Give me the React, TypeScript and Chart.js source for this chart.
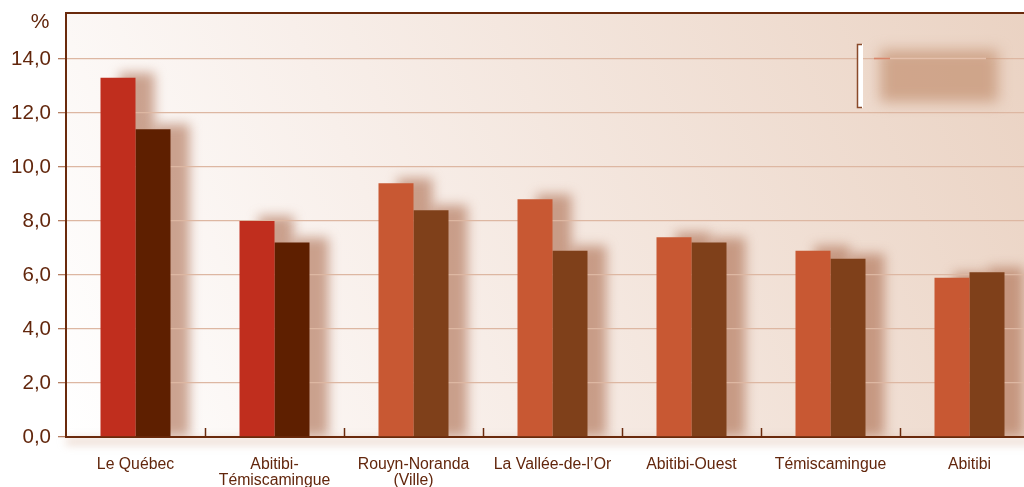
import React, { useEffect, useRef } from "react";
import { Chart, registerables } from "chart.js";

Chart.register(...registerables);

const categories: (string | string[])[] = [
  "Le Québec",
  ["Abitibi-", "Témiscamingue"],
  ["Rouyn-Noranda", "(Ville)"],
  "La Vallée-de-l’Or",
  "Abitibi-Ouest",
  "Témiscamingue",
  "Abitibi",
];
const seriesA = [13.3, 8.0, 9.4, 8.8, 7.4, 6.9, 5.9];
const seriesB = [11.4, 7.2, 8.4, 6.9, 7.2, 6.6, 6.1];
const colorsA = ["#C02E1E", "#C02E1E", "#C85833", "#C85833", "#C85833", "#C85833", "#C85833"];
const colorsB = ["#5E1F00", "#5E1F00", "#7F401A", "#7F401A", "#7F401A", "#7F401A", "#7F401A"];
const yTicks = [0, 2, 4, 6, 8, 10, 12, 14];

const FONT = "'Liberation Sans', Arial, Helvetica, sans-serif";
const BROWN = "#6A2A0C";
const TEXT = "#62260C";

const decor = {
  id: "decor",
  beforeDraw(chart: any) {
    const { ctx, chartArea: a } = chart;
    ctx.save();
    const g = ctx.createLinearGradient(a.left, a.bottom, a.right, a.top);
    g.addColorStop(0, "#FFFFFF");
    g.addColorStop(0.35, "#F8EFEA");
    g.addColorStop(1, "#EAD2C2");
    ctx.fillStyle = g;
    ctx.fillRect(a.left, a.top, a.right - a.left, a.bottom - a.top);
    // axis shadow below bottom
    ctx.save();
    ctx.filter = "blur(4px)";
    ctx.fillStyle = "rgba(200,150,120,0.35)";
    ctx.fillRect(a.left, a.bottom + 1, a.right - a.left, 7);
    ctx.restore();
    // bar shadows (drawn under grid lines)
    ctx.beginPath();
    ctx.rect(a.left, a.top, a.right - a.left, a.bottom - a.top);
    ctx.clip();
    ctx.filter = "blur(6px)";
    ctx.fillStyle = "rgba(170,105,75,0.6)";
    chart.data.datasets.forEach((_: any, di: number) => {
      const meta = chart.getDatasetMeta(di);
      meta.data.forEach((bar: any) => {
        const p = bar.getProps(["x", "y", "base", "width"], true);
        ctx.fillRect(p.x - p.width / 2 + 19, p.y - 5, p.width, p.base - p.y + 5);
      });
    });
    ctx.restore();
  },
  afterDraw(chart: any) {
    const { ctx, chartArea: a } = chart;
    ctx.save();
    // top border
    ctx.strokeStyle = BROWN;
    ctx.lineWidth = 2;
    ctx.beginPath();
    ctx.moveTo(a.left - 1, a.top);
    ctx.lineTo(a.right, a.top);
    ctx.stroke();
    // x category boundary ticks
    const n = categories.length;
    const w = (a.right - a.left) / n;
    ctx.lineWidth = 1.5;
    for (let i = 1; i < n; i++) {
      const x = Math.round(a.left + i * w) + 0.5;
      ctx.beginPath();
      ctx.moveTo(x, a.bottom - 9);
      ctx.lineTo(x, a.bottom);
      ctx.stroke();
    }
    // % label
    ctx.fillStyle = TEXT;
    ctx.font = `21px ${FONT}`;
    ctx.textAlign = "center";
    ctx.textBaseline = "middle";
    ctx.fillText("%", 40, 22);
    // legend blob
    ctx.save();
    ctx.filter = "blur(7px)";
    ctx.fillStyle = "rgba(198,148,118,0.75)";
    ctx.fillRect(880, 50, 118, 52);
    ctx.restore();
    ctx.strokeStyle = "#E4C0AC";
    ctx.lineWidth = 1.5;
    ctx.beginPath();
    ctx.moveTo(874, 58.5);
    ctx.lineTo(986, 58.5);
    ctx.stroke();
    ctx.strokeStyle = "#D8866A";
    ctx.beginPath();
    ctx.moveTo(874, 58.5);
    ctx.lineTo(890, 58.5);
    ctx.stroke();
    ctx.fillStyle = "#FFFFFF";
    ctx.fillRect(857, 44, 6, 64);
    ctx.strokeStyle = "#8A4A2A";
    ctx.lineWidth = 1.5;
    ctx.beginPath();
    ctx.moveTo(862, 44.5);
    ctx.lineTo(857.5, 44.5);
    ctx.lineTo(857.5, 107.5);
    ctx.lineTo(862, 107.5);
    ctx.stroke();
    ctx.restore();
  },
};

export default function App() {
  const ref = useRef<HTMLCanvasElement>(null);
  useEffect(() => {
    if (!ref.current) return;
    const chart = new Chart(ref.current, {
      type: "bar",
      data: {
        labels: categories,
        datasets: [
          { data: seriesA, backgroundColor: colorsA, categoryPercentage: 70 / 139, barPercentage: 1 },
          { data: seriesB, backgroundColor: colorsB, categoryPercentage: 70 / 139, barPercentage: 1 },
        ],
      },
      options: {
        animation: false,
        responsive: false,
        devicePixelRatio: 1,
        layout: { padding: { top: 13, right: 21, left: 0, bottom: 0 } },
        plugins: { legend: { display: false }, tooltip: { enabled: false } },
        scales: {
          x: {
            grid: { display: false },
            border: { display: true, color: BROWN, width: 2 },
            ticks: {
              color: TEXT,
              font: { family: FONT, size: 15.8, lineHeight: 1.05 },
              padding: 11,
              maxRotation: 0,
              autoSkip: false,
            },
            afterFit: (s: any) => {
              s.height = 50;
              s.paddingLeft = 0;
              s.paddingRight = 0;
            },
          },
          y: {
            min: 0,
            max: 15.7,
            grid: { color: "#DDB7A2", lineWidth: 1.3, tickColor: "#B57E62", tickLength: 8 },
            border: { display: true, color: BROWN, width: 2 },
            ticks: {
              color: TEXT,
              font: { family: FONT, size: 20.5 },
              padding: 7,
              stepSize: 2,
              callback: (v: any) => Number(v).toFixed(1).replace(".", ","),
            },
            afterBuildTicks: (s: any) => { s.ticks = yTicks.map((v) => ({ value: v })); },
            afterFit: (s: any) => {
              s.width = 66;
              s.paddingTop = 0;
              s.paddingBottom = 0;
            },
          },
        },
      },
      plugins: [decor],
    });
    return () => chart.destroy();
  }, []);
  return (
    <div style={{ position: "fixed", left: 0, top: 0, width: 1024, height: 487, overflow: "hidden", background: "#fff" }}>
      <canvas ref={ref} width={1060} height={487} style={{ width: 1060, height: 487, display: "block" }} />
    </div>
  );
}
